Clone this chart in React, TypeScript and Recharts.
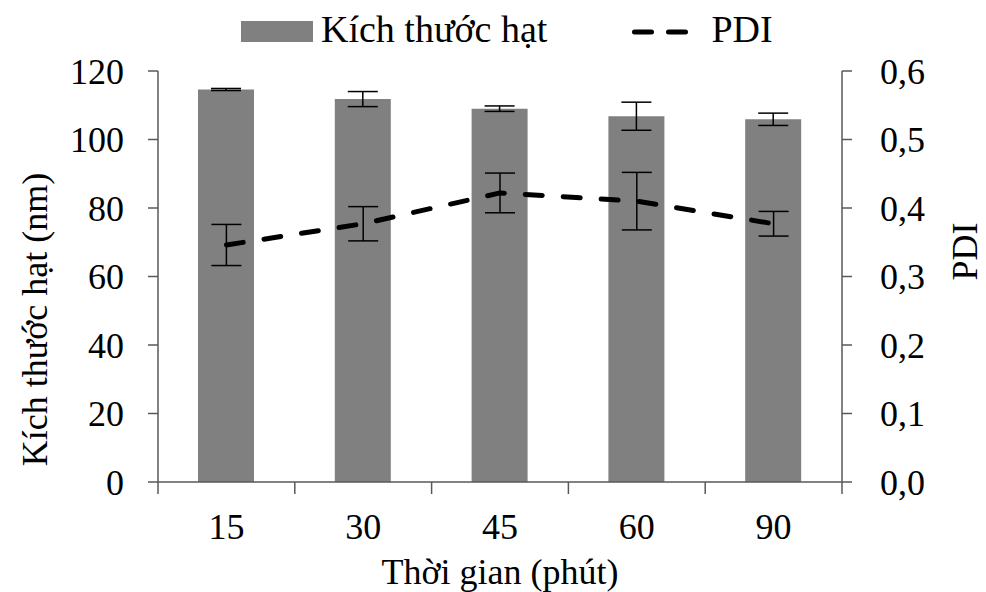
import { ComposedChart, Bar, Line, XAxis, YAxis, ErrorBar, Legend, Label } from 'recharts';

const categories = ['15', '30', '45', '60', '90'];
const particleSize = [114.6, 111.8, 109.0, 106.8, 105.9];
const particleSizeErr = [0.3, 2.2, 0.8, 4.1, 1.8];
const pdi = [0.346, 0.377, 0.422, 0.41, 0.377];
const pdiErr = [0.03, 0.025, 0.029, 0.042, 0.018];

const sizeTicks = [0, 20, 40, 60, 80, 100, 120];
const pdiTicks = [0, 0.1, 0.2, 0.3, 0.4, 0.5, 0.6];

const data = categories.map((time, i) => ({
  time,
  size: particleSize[i],
  sizeErr: particleSizeErr[i],
  pdi: pdi[i],
  pdiErr: pdiErr[i],
}));

const W = 986;
const H = 592;
const LEFT_AXIS_W = 158;
const RIGHT_AXIS_W = 144;
const BAND = (W - LEFT_AXIS_W - RIGHT_AXIS_W) / categories.length;
const FONT = '"Liberation Serif", "Times New Roman", serif';
const FS = 36;
const AXIS_COLOR = '#595959';
const BAR_COLOR = '#808080';
const X_TICK_MARGIN = 31;

const XTick = (props: any) => {
  const { x, y, payload, index } = props;
  const y0 = y - X_TICK_MARGIN;
  const half = BAND / 2;
  return (
    <g>
      <line x1={x - half} x2={x - half} y1={y0} y2={y0 + 12} stroke={AXIS_COLOR} strokeWidth={1.5} />
      {index === categories.length - 1 && (
        <line x1={x + half} x2={x + half} y1={y0} y2={y0 + 12} stroke={AXIS_COLOR} strokeWidth={1.5} />
      )}
      <text x={x} y={y} dy="0.71em" textAnchor="middle" fill="#000" fontSize={FS} fontFamily={FONT}>
        {payload.value}
      </text>
    </g>
  );
};

const LeftTitle = ({ viewBox }: any) => (
  <text
    transform={`translate(47, ${viewBox.y + viewBox.height / 2 + 43}) rotate(-90)`}
    textAnchor="middle"
    fill="#000"
    fontSize={FS}
    fontFamily={FONT}
  >
    Kích thước hạt (nm)
  </text>
);

const RightTitle = ({ viewBox }: any) => (
  <text
    transform={`translate(977, ${viewBox.y + viewBox.height / 2 - 25}) rotate(-90)`}
    textAnchor="middle"
    fill="#000"
    fontSize={FS}
    fontFamily={FONT}
  >
    PDI
  </text>
);

const renderLegend = () => (
  <div
    style={{
      display: 'flex',
      alignItems: 'baseline',
      paddingLeft: 241,
      fontFamily: FONT,
      fontSize: 38,
      lineHeight: '44px',
      color: '#000',
    }}
  >
    <span style={{ display: 'inline-block', width: 72, height: 21, marginBottom: 1, background: BAR_COLOR }} />
    <span style={{ marginLeft: 8 }}>Kích thước hạt</span>
    <svg width={58} height={14} style={{ marginLeft: 85 }}>
      <line x1={2.5} x2={53.5} y1={4} y2={4} stroke="#000" strokeWidth={5} strokeDasharray="17 17" strokeLinecap="round" />
    </svg>
    <span style={{ marginLeft: 21 }}>PDI</span>
  </div>
);

export default function App() {
  return (
    <div style={{ position: 'absolute', left: 0, top: 0, width: W, height: H, background: '#fff', fontFamily: FONT }}>
      <ComposedChart width={W} height={H} data={data} margin={{ top: 71, right: 0, bottom: 0, left: 0 }}>
        <Legend
          verticalAlign="middle"
          align="center"
          layout="horizontal"
          content={renderLegend}
          wrapperStyle={{ top: 7, left: 0, width: W, height: 48 }}
        />
        <XAxis
          dataKey="time"
          height={H - 71 - 411}
          tickLine={false}
          tickSize={0}
          tickMargin={X_TICK_MARGIN}
          tick={<XTick />}
          stroke={AXIS_COLOR}
          strokeWidth={1.5}
          interval={0}
        >
          <Label value="Thời gian (phút)" position="insideBottom" offset={8} fill="#000" fontSize={FS} fontFamily={FONT} />
        </XAxis>
        <YAxis
          yAxisId="size"
          width={LEFT_AXIS_W}
          domain={[0, 120]}
          ticks={sizeTicks}
          tickSize={10}
          tickMargin={24}
          stroke={AXIS_COLOR}
          strokeWidth={1.5}
          tick={{ fill: '#000', fontSize: FS, fontFamily: FONT }}
          allowDataOverflow
        >
          <Label content={<LeftTitle />} />
        </YAxis>
        <YAxis
          yAxisId="pdi"
          orientation="right"
          width={RIGHT_AXIS_W}
          domain={[0, 0.6]}
          ticks={pdiTicks}
          tickSize={10}
          tickMargin={28}
          stroke={AXIS_COLOR}
          strokeWidth={1.5}
          tick={{ fill: '#000', fontSize: FS, fontFamily: FONT }}
          tickFormatter={(v: number) => v.toFixed(1).replace('.', ',')}
          allowDataOverflow
        >
          <Label content={<RightTitle />} />
        </YAxis>
        <Bar yAxisId="size" dataKey="size" fill={BAR_COLOR} barSize={56} isAnimationActive={false}>
          <ErrorBar dataKey="sizeErr" width={15} stroke="#000" strokeWidth={1.5} />
        </Bar>
        <Line
          yAxisId="pdi"
          dataKey="pdi"
          stroke="#000"
          strokeWidth={5}
          strokeDasharray="17 21"
          strokeLinecap="round"
          dot={false}
          activeDot={false}
          isAnimationActive={false}
        >
          <ErrorBar dataKey="pdiErr" width={15} stroke="#000" strokeWidth={1.5} />
        </Line>
      </ComposedChart>
    </div>
  );
}
